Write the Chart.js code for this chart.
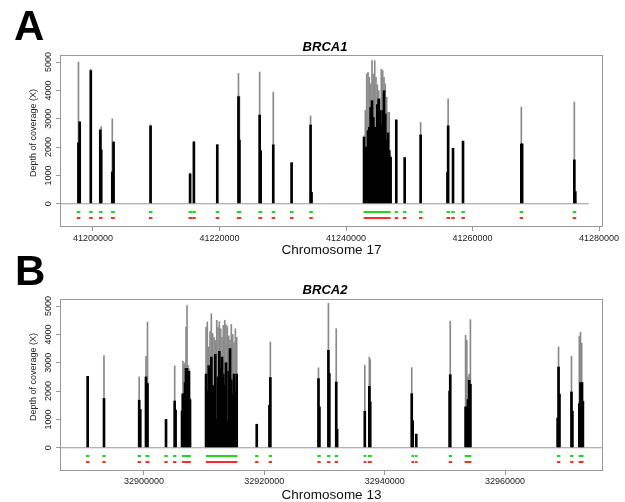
<!DOCTYPE html>
<html>
<head>
<meta charset="utf-8">
<script src="https://cdn.jsdelivr.net/npm/chart.js@4.4.1/dist/chart.umd.min.js"></script>
<style>
  body { margin: 0; background: #fff; width: 625px; height: 502px; position: relative; overflow: hidden; }
  canvas { position: absolute; left: 0; }
  #chartA { top: 0; }
  #chartB { top: 250px; }
  .panel { position: absolute; font: bold 42px "Liberation Sans", Arial, sans-serif; color: #000; line-height: 1; }
</style>
</head>
<body>
<canvas id="chartA" width="625" height="265"></canvas>
<canvas id="chartB" width="625" height="252"></canvas>
<div class="panel" style="left:14px;top:5px">A</div>
<div class="panel" style="left:15px;top:250px">B</div>
<script>
// ---- BRCA1, chromosome 17 ----
const xTicksA = [41200000, 41220000, 41240000, 41260000, 41280000];
const posA = [
  41197700, 41197900, 41199650, 41201150, 41201300, 41203050, 41203250, 41209100,
  41215350, 41215950, 41219650, 41223000, 41223150, 41226350, 41226500, 41228500,
  41231400, 41234400, 41234550,
  // exon 11
  41242850, 41243050, 41243270, 41243480, 41243680, 41243900, 41244110, 41244320,
  41244540, 41244740, 41244950, 41245170, 41245370, 41245580, 41245800, 41246010,
  41246210, 41246430, 41246640, 41246840, 41247050,
  41247950, 41249280, 41251800, 41256050, 41256150, 41256920, 41258500, 41267720,
  41267850, 41276100, 41276250
];
const peakA = [
  5000, 2900, 4750, 2650, 2720, 3000, 2180, 2780,
  1090, 2200, 2100, 4600, 3800, 4650, 1870, 3940,
  1450, 3100, 400,
  2400, 3300, 4580, 4640, 4460, 4230, 5050, 4580,
  5050, 4460, 4200, 3990, 3700, 4750, 4700, 4460,
  4230, 3760, 3230, 3230, 1700,
  2960, 1630, 2870, 1100, 3700, 1960, 2210, 3410,
  2110, 3590, 430
];
const depthA = [
  2150, 2890, 4700, 2600, 1900, 1120, 2180, 2750,
  1050, 2180, 2080, 3780, 2250, 3130, 1870, 2080,
  1450, 2780, 400,
  2350, 2000, 2000, 2580, 2700, 3400, 3640, 3050,
  2700, 2400, 3500, 3700, 3290, 2820, 3300, 3990,
  3170, 2230, 2500, 1880, 1640,
  2960, 1630, 2430, 1100, 2750, 1960, 2210, 2110,
  2110, 1550, 430
];
const exonStartA = [41197450, 41199400, 41200950, 41202850, 41208850, 41215100, 41215700, 41219400, 41222750,
  41226150, 41228250, 41231150, 41234200, 41242800, 41247700, 41249000, 41251550, 41255900, 41256650,
  41258250, 41267450, 41275850];
const exonEndA = [41198000, 41199950, 41201500, 41203450, 41209400, 41215650, 41216250, 41219950, 41223450,
  41226750, 41228800, 41231700, 41234750, 41247050, 41248250, 41249550, 41252100, 41256450, 41257200,
  41258800, 41268000, 41276400];

// ---- BRCA2, chromosome 13 ----
const xTicksB = [32900000, 32920000, 32940000, 32960000];
const posB = [
  32890640, 32893350, 32899200, 32899380, 32900330, 32900580, 32903660, 32905100, 32905250,
  32906320, 32906480, 32906650, 32906820, 32906980, 32907150, 32907320, 32907480, 32907650,
  // exons 10-11
  32910310, 32910520, 32910760, 32910970, 32911190, 32911420, 32911640, 32911850,
  32912090, 32912300, 32912520, 32912750, 32912970, 32913180, 32913420, 32913630,
  32913850, 32914080, 32914300, 32914510, 32914750, 32914960, 32915180, 32915410,
  32918740, 32920850, 32921000, 32929000, 32929150, 32930650, 32930800, 32931950, 32932100,
  32936700, 32937450, 32937600, 32944500, 32944650, 32945250, 32950800, 32950900,
  32953450, 32953650, 32953850, 32954050, 32954250, 32968750, 32968900, 32969050,
  32971050, 32971200, 32972350, 32972550, 32972750, 32972950
];
const peakB = [
  2520, 3250, 2500, 1350, 3230, 4440, 1000, 2890, 1330,
  1900, 3050, 2930, 3000, 4260, 5020, 2910, 2790, 1740,
  4260, 4440, 3560, 4100, 4730, 4030, 3900, 3790,
  4500, 4260, 4450, 4200, 3900, 4320, 4500, 4350,
  4280, 3950, 3800, 4350, 4000, 3700, 4200, 3900,
  830, 1500, 3730, 2820, 1440, 5100, 2620, 4200, 650,
  2910, 3200, 3110, 2830, 950, 480, 2000, 4470,
  3970, 3790, 2500, 2600, 4520, 1045, 3560, 1890,
  3230, 1290, 3940, 4080, 3690, 2300
];
const depthB = [
  2520, 1740, 1680, 1350, 2500, 2270, 1000, 1650, 1330,
  1300, 1900, 1900, 2300, 2800, 2800, 2500, 2700, 1700,
  2600, 2000, 2900, 2300, 3200, 2200, 2000, 3300,
  1000, 2500, 3400, 2800, 3200, 2600, 2200, 3000,
  900, 2700, 3500, 2400, 1900, 2600, 2000, 2600,
  830, 1500, 2480, 2440, 1440, 3440, 2620, 2320, 650,
  1290, 2170, 1620, 1910, 950, 480, 2000, 2580,
  1440, 1440, 1700, 2380, 2240, 1045, 2850, 1890,
  1970, 1290, 1560, 2300, 2300, 1640
];
const exonStartB = [32890370, 32893080, 32898950, 32900250, 32903390, 32904830, 32906300, 32910280, 32918470,
  32920730, 32928820, 32930430, 32931700, 32936500, 32937200, 32944450, 32945050, 32950650, 32953300,
  32968650, 32970830, 32972250];
const exonEndB = [32890920, 32893630, 32899500, 32900900, 32903940, 32905380, 32907780, 32915520, 32919020,
  32921280, 32929370, 32930980, 32932250, 32936950, 32937850, 32944900, 32945450, 32951200, 32954420,
  32969200, 32971380, 32973050];

const yTicks = [0, 1000, 2000, 3000, 4000, 5000];

const FONT = '"Liberation Sans", Arial, sans-serif';
const GREEN_Y = -292, RED_Y = -504;

function track(starts, ends, y) {
  const pts = [];
  starts.forEach((s, i) => {
    pts.push({x: s, y: y}, {x: ends[i], y: y}, {x: ends[i], y: null});
  });
  return pts;
}

// frame, rotated y labels, y title and gene name
const decor = {
  id: 'decor',
  afterDraw(chart, args, o) {
    const {ctx, chartArea: a, scales: {y}} = chart;
    ctx.save();
    ctx.strokeStyle = '#999';
    ctx.lineWidth = 1;
    ctx.strokeRect(a.left + 0.5, a.top + 0.5, a.right - a.left - 1, a.bottom - a.top - 1);
    ctx.fillStyle = '#222';
    ctx.font = '9px ' + FONT;
    ctx.textAlign = 'center';
    ctx.textBaseline = 'middle';
    y.ticks.forEach(t => {
      ctx.save();
      ctx.translate(49, y.getPixelForValue(t.value));
      ctx.rotate(-Math.PI / 2);
      ctx.fillText(String(t.value), 0, 0);
      ctx.restore();
    });
    ctx.save();
    ctx.translate(34, y.getPixelForValue(2500));
    ctx.rotate(-Math.PI / 2);
    ctx.fillText('Depth of coverage (X)', 0, 0);
    ctx.restore();
    ctx.fillStyle = '#000';
    ctx.font = 'bold italic 13px ' + FONT;
    ctx.fillText(o.gene, 325, o.geneY);
    ctx.restore();
  }
};

function makeChart(id, p) {
  const peaks = p.pos.map((x, i) => ({x: x, y: p.peak[i]}));
  const bodies = p.pos.map((x, i) => ({x: x, y: p.depth[i]}));
  return new Chart(document.getElementById(id), {
    type: 'bar',
    data: {
      datasets: [
        {data: peaks, backgroundColor: '#8a8a8a', barThickness: 1, grouped: false, order: 4},
        {data: bodies, backgroundColor: '#000', barThickness: 2, grouped: false, order: 3},
        {type: 'line', data: [{x: p.min, y: 0}, {x: p.zeroEnd, y: 0}], borderColor: '#999',
         borderWidth: 1, pointRadius: 0, order: 2},
        {type: 'line', data: track(p.starts, p.ends, GREEN_Y), borderColor: '#22d322',
         borderWidth: 2, pointRadius: 0, spanGaps: false, borderCapStyle: 'butt', order: 1},
        {type: 'line', data: track(p.starts, p.ends, RED_Y), borderColor: '#ff2b2b',
         borderWidth: 2, pointRadius: 0, spanGaps: false, borderCapStyle: 'butt', order: 0}
      ]
    },
    options: {
      responsive: false,
      animation: false,
      events: [],
      layout: {padding: {top: p.top, right: 22, left: 0, bottom: 0}},
      plugins: {
        legend: {display: false},
        tooltip: {enabled: false},
        decor: {gene: p.gene, geneY: p.geneY}
      },
      scales: {
        x: {
          type: 'linear', min: p.min, max: p.max, offset: false,
          grid: {offset: false, drawOnChartArea: false, drawTicks: true, tickLength: 4, color: '#999'},
          border: {display: false},
          ticks: {font: {size: 9, family: FONT}, color: '#222', padding: p.tickPad, maxRotation: 0,
                  autoSkip: false, callback: v => String(v)},
          title: {display: true, text: p.chrom, color: '#111',
                  font: {size: 13.5, family: FONT, lineHeight: 1}, padding: {top: 0, bottom: p.titlePad}},
          afterBuildTicks: s => { s.ticks = p.xTicks.map(v => ({value: v})); },
          afterFit: s => { s.height = p.xH; s.paddingLeft = 0; s.paddingRight = 0; }
        },
        y: {
          min: -820, max: 5250,
          grid: {drawOnChartArea: false, drawTicks: true, tickLength: 4, color: '#999'},
          border: {display: false},
          ticks: {display: false},
          afterBuildTicks: s => { s.ticks = yTicks.map(v => ({value: v})); },
          afterFit: s => { s.width = 60; s.paddingTop = 0; s.paddingBottom = 0; }
        }
      }
    },
    plugins: [decor]
  });
}

makeChart('chartA', {
  pos: posA, peak: peakA, depth: depthA, starts: exonStartA, ends: exonEndA,
  xTicks: xTicksA, min: 41194783, max: 41280632, zeroEnd: 41278400,
  gene: 'BRCA1', geneY: 47, chrom: 'Chromosome 17',
  top: 55, xH: 38, tickPad: 2, titlePad: 8.25
});
makeChart('chartB', {
  pos: posB, peak: peakB, depth: depthB, starts: exonStartB, ends: exonEndB,
  xTicks: xTicksB, min: 32886039, max: 32976288, zeroEnd: 32976288,
  gene: 'BRCA2', geneY: 40, chrom: 'Chromosome 13',
  top: 49, xH: 31, tickPad: 1, titlePad: 0.25
});
</script>
</body>
</html>
